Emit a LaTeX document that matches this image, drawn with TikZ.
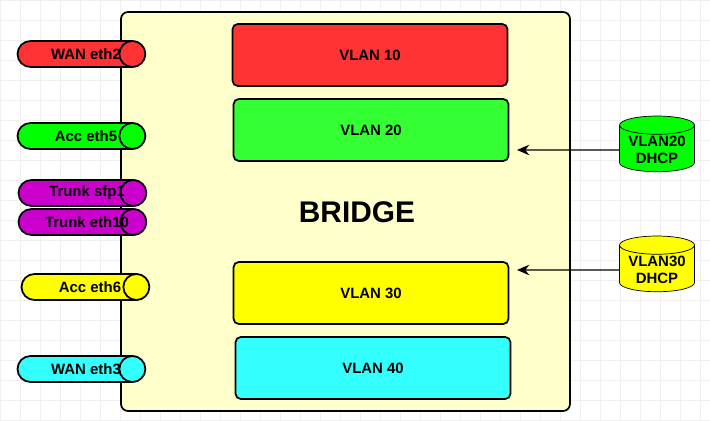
\documentclass[tikz,border=0pt]{standalone}
\usepackage{fontspec}
\setmainfont{Liberation Sans}
\usetikzlibrary{shapes.geometric, shapes.misc, arrows.meta, positioning}

\definecolor{bridgebg}{HTML}{FFFFCC}
\definecolor{vred}{HTML}{FF3333}
\definecolor{vgreen}{HTML}{33FF33}
\definecolor{vyellow}{HTML}{FFFF00}
\definecolor{vcyan}{HTML}{33FFFF}
\definecolor{pgreen}{HTML}{00FF00}
\definecolor{ppurple}{HTML}{CC00CC}

\tikzset{
  vlan/.style={draw, line width=1pt, rounded corners=3pt, minimum width=5.5cm, minimum height=1.24cm, font=\fontsize{8.5}{10}\selectfont\bfseries},
  port/.style={draw, line width=1pt, rounded rectangle, minimum width=2.54cm, minimum height=0.52cm, inner sep=0pt},
  porttext/.style={font=\fontsize{8.5}{10}\selectfont\bfseries, inner sep=0pt},
  dhcp/.style={draw, cylinder, shape border rotate=90, aspect=0.3, minimum width=1.5cm, minimum height=1.0cm, inner sep=1pt, align=center, font=\fontsize{8.5}{9.5}\selectfont\bfseries},
  feed/.style={-{Stealth[length=7pt,width=6pt]}, line width=0.6pt}
}

\begin{document}
\begin{tikzpicture}[x=0.02cm, y=-0.02cm]
\useasboundingbox (0,0) rectangle (710,421);

% grid
\draw[black!6, step=0.4cm] (0,421) grid (710,0);

% bridge
\draw[fill=bridgebg, line width=1pt, rounded corners=4pt] (121,12) rectangle (570,411);
\node[font=\fontsize{17}{19}\selectfont\bfseries] (bridge) at (357,212) {BRIDGE};

% vlans
\node[vlan, fill=vred] (v10) at (370,55) {VLAN 10};
\node[vlan, fill=vgreen] (v20) at (371,130) {VLAN 20};
\node[vlan, fill=vyellow] (v30) at (371,293) {VLAN 30};
\node[vlan, fill=vcyan] (v40) at (373,368) {VLAN 40};

% ports
\node[port, fill=vred] (wan2) at (81,54) {};
\node[port, fill=pgreen] (acc5) at (81,136) {};
\node[port, fill=ppurple] (sfp1) at (82,193) {};
\node[port, fill=ppurple] (eth10) at (82,222) {};
\node[port, fill=vyellow] (acc6) at (85,287) {};
\node[port, fill=vcyan] (wan3) at (81,369) {};
\foreach \p/\c/\t in {wan2/vred/WAN eth2, acc5/pgreen/Acc eth5, sfp1/ppurple/Trunk sfp1,
    eth10/ppurple/Trunk eth10, acc6/vyellow/Acc eth6, wan3/vcyan/WAN eth3} {
  \draw[line width=1pt, fill=\c] ([xshift=-0.26cm]\p.east) circle (0.26cm);
  \node[porttext] (\p-label) at ([xshift=0.1cm]\p.center) {\t};
}

% dhcp servers
\node[dhcp, fill=pgreen] (dhcp20) at (657,150) {VLAN20\\DHCP};
\node[dhcp, fill=vyellow] (dhcp30) at (657,270) {VLAN30\\DHCP};
\coordinate (in20) at (517,150);
\coordinate (in30) at (517,270);

\draw[feed] (dhcp20) -- (in20);
\draw[feed] (dhcp30) -- (in30);
\end{tikzpicture}
\end{document}
